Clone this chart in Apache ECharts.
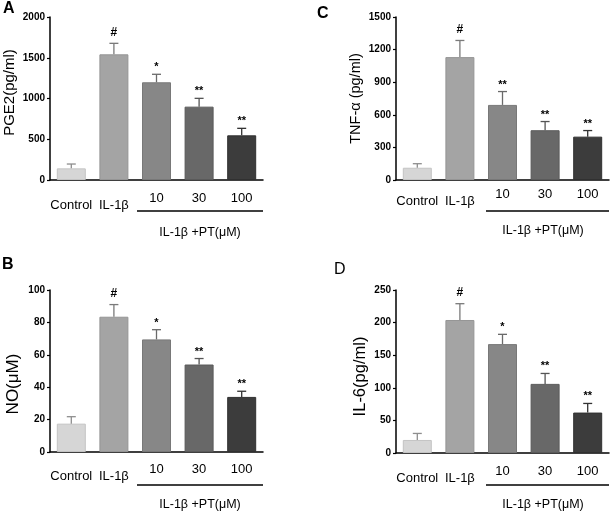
<!DOCTYPE html>
<html>
<head>
<meta charset="utf-8">
<script src="https://cdn.jsdelivr.net/npm/echarts@6/dist/echarts.min.js"></script>
<style>html,body{margin:0;padding:0;background:#fff;}#c{width:612px;height:515px;}</style>
</head>
<body>
<div id="c"></div>
<script>
const categories = ['Control', 'IL-1β', '10', '30', '100'];
const barColors = ['#d6d6d6', '#a4a4a4', '#878787', '#686868', '#3c3c3c'];
const edgeColors = ['#c4c4c4', '#959595', '#787878', '#5a5a5a', '#303030'];
const errColors = ['#8e8e8e', '#7a7a7a', '#6a6a6a', '#555555', '#333333'];

const pge2 = [143, 1542, 1199, 900, 548];
const pge2Err = [53, 135, 98, 102, 86];
const pge2Marks = ['', '#', '*', '**', '**'];

const tnf = [113, 1131, 691, 458, 399];
const tnfErr = [37, 153, 123, 80, 56];
const tnfMarks = ['', '#', '**', '**', '**'];

const no = [17.5, 83.5, 69.5, 54, 34];
const noErr = [4.3, 7.5, 6, 3.7, 3.5];
const noMarks = ['', '#', '*', '**', '**'];

const il6 = [20, 204, 167, 106, 62];
const il6Err = [10, 25, 15, 16, 14];
const il6Marks = ['', '#', '*', '**', '**'];

const panels = [
  { letter: 'A', bold: true, name: 'PGE2(pg/ml)', nameSize: 15, nameGap: 33, namePad: [0, 0, 0, 12], vals: pge2, errs: pge2Err, marks: pge2Marks, max: 2000, interval: 500,
    grid: { left: 50, top: 17, width: 213, height: 163 }, title: { left: 3, top: 1 }, labMargin: 12, line: [137, 263, 211], sub: [200, 233] },
  { letter: 'C', bold: true, name: 'TNF-α (pg/ml)', nameSize: 14.5, nameGap: 33, namePad: [0, 0, 0, 0], vals: tnf, errs: tnfErr, marks: tnfMarks, max: 1500, interval: 300,
    grid: { left: 396, top: 17, width: 213, height: 163 }, title: { left: 317, top: 6 }, labMargin: 8, line: [486, 609, 211], sub: [543, 231] },
  { letter: 'B', bold: true, name: 'NO(μM)', nameSize: 17, nameGap: 28, namePad: [0, 26, 0, 0], vals: no, errs: noErr, marks: noMarks, max: 100, interval: 20,
    grid: { left: 50, top: 290, width: 213, height: 162 }, title: { left: 2, top: 257 }, labMargin: 11, line: [137, 263, 485], sub: [200, 505] },
  { letter: 'D', bold: false, name: 'IL-6(pg/ml)', nameSize: 16.5, nameGap: 27, namePad: [0, 10, 0, 0], vals: il6, errs: il6Err, marks: il6Marks, max: 250, interval: 50,
    grid: { left: 396, top: 290, width: 213, height: 163 }, title: { left: 334, top: 262 }, labMargin: 12, line: [486, 609, 485], sub: [543, 505] }
];

const FONT = 'Liberation Sans, Arial, sans-serif';
const option = { animation: false, backgroundColor: '#fff', title: [], grid: [], xAxis: [], yAxis: [], series: [], graphic: [] };

panels.forEach((p, i) => {
  option.title.push({ text: p.letter, left: p.title.left, top: p.title.top, padding: 0,
    textStyle: { fontFamily: FONT, fontSize: 16, fontWeight: p.bold ? 'bold' : 'normal', color: '#000' } });
  option.grid.push(Object.assign({ containLabel: false }, p.grid));
  option.xAxis.push({
    type: 'category', gridIndex: i, data: categories,
    axisLine: { lineStyle: { color: '#000', width: 1.5 } },
    axisTick: { alignWithLabel: true, length: 4, lineStyle: { color: '#000', width: 1.2 } },
    axisLabel: {
      margin: p.labMargin, interval: 0, color: '#000', fontFamily: FONT, fontSize: 13,
      formatter: (v, idx) => idx < 2 ? '{lo|' + v + '}' : '{hi|' + v + '}',
      rich: { lo: { fontSize: 13, fontFamily: FONT, color: '#000', padding: [7, 0, 0, 0] }, hi: { fontSize: 13, fontFamily: FONT, color: '#000' } }
    }
  });
  option.yAxis.push({
    type: 'value', gridIndex: i, min: 0, max: p.max, interval: p.interval,
    name: p.name, nameLocation: 'middle', nameGap: p.nameGap,
    nameTextStyle: { fontFamily: FONT, fontSize: p.nameSize, color: '#000', padding: p.namePad },
    splitLine: { show: false },
    axisLine: { show: true, lineStyle: { color: '#000', width: 1.5 } },
    axisTick: { show: true, length: 3, lineStyle: { color: '#000', width: 1.2 } },
    axisLabel: { margin: 5, color: '#000', fontFamily: FONT, fontSize: 10, fontWeight: 'bold', formatter: v => String(v) }
  });
  option.series.push({
    type: 'bar', xAxisIndex: i, yAxisIndex: i, barWidth: 29,
    data: p.vals.map((v, k) => ({ value: v, itemStyle: { color: barColors[k], borderColor: edgeColors[k], borderWidth: 1 } }))
  });
  option.series.push({
    type: 'custom', xAxisIndex: i, yAxisIndex: i, z: 5,
    data: p.vals.map((v, k) => [k, v, p.errs[k]]),
    encode: { x: 0, y: 1 },
    renderItem: (params, api) => {
      const k = api.value(0), v = api.value(1), e = api.value(2);
      const base = api.coord([k, v]);
      const top = api.coord([k, v + e]);
      const col = errColors[k];
      const mark = p.marks[k];
      const children = [
        { type: 'line', shape: { x1: base[0], y1: base[1], x2: top[0], y2: top[1] }, style: { stroke: col, lineWidth: 1.3 } },
        { type: 'line', shape: { x1: top[0] - 4.5, y1: top[1], x2: top[0] + 4.5, y2: top[1] }, style: { stroke: col, lineWidth: 1.3 } }
      ];
      if (mark) {
        const dy = mark === '#' ? 11 : 7;
        children.push({ type: 'text', style: { text: mark, x: top[0], y: top[1] - dy, align: 'center', verticalAlign: 'middle',
          font: 'bold ' + (mark === '#' ? 12 : 11) + 'px ' + FONT, fill: '#000' } });
      }
      return { type: 'group', children };
    }
  });
  option.graphic.push({ type: 'line', shape: { x1: p.line[0], y1: p.line[2], x2: p.line[1], y2: p.line[2] }, style: { stroke: '#000', lineWidth: 1.3 } });
  option.graphic.push({ type: 'text', x: p.sub[0], y: p.sub[1], style: { text: 'IL-1β +PT(μM)', align: 'center', verticalAlign: 'middle', font: '12.5px ' + FONT, fill: '#000' } });
});

const chart = echarts.init(document.getElementById('c'), null, { renderer: 'canvas' });
chart.setOption(option);
</script>
</body>
</html>
